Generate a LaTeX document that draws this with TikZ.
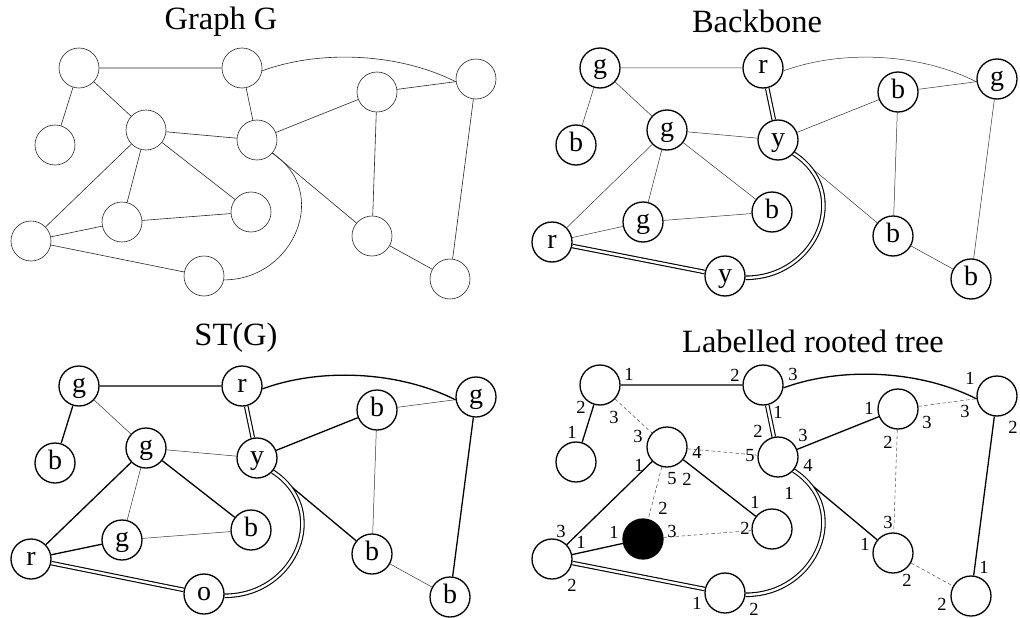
\documentclass[tikz,border=0pt]{standalone}
\usepackage{fontspec}
\setmainfont{Liberation Serif}
\pgfdeclarelayer{bg}
\pgfsetlayers{bg,main}
\begin{document}
\begin{tikzpicture}[x=1pt,y=-1pt,
  vtx/.style={circle, draw, minimum size=40pt, inner sep=0pt, line width=1.3pt,
    font=\fontsize{28}{28}\selectfont, text height=12pt, text depth=0pt},
  thinvtx/.style={circle, draw=black!85, minimum size=40pt, inner sep=0pt, line width=0.6pt},
  gedge/.style={line width=0.6pt, draw=black!85},
  thinedge/.style={line width=0.5pt, draw=black!80},
  treeedge/.style={line width=1.3pt},
  dbl/.style={double, double distance=2.4pt, line width=1.1pt},
  nontree/.style={line width=0.55pt, draw=black!65, dash pattern=on 3.5pt off 2.5pt},
  title/.style={font=\fontsize{32.5}{36}\selectfont, anchor=base, inner sep=0pt},
  lab/.style={font=\fontsize{18.5}{18.5}\selectfont, inner sep=0pt},
]
\useasboundingbox (0,0) rectangle (1020,618);

% ---------- titles ----------
\node[title] (t1) at (221,30) {Graph G};
\node[title] (t2) at (757,33) {Backbone};
\node[title] (t3) at (236,345) {ST(G)};
\node[title] (t4) at (813,352) {Labelled rooted tree};

% ---------- Graph G ----------
\foreach \n/\x/\y in {A/79/68, B/242/68, C/55/145, D/146/130, E/257/140, F/377/92,
  G/476/79, H/122/222, I/251/212, J/31/241, K/204/276, L/372/236, M/450/279}
  \node[thinvtx] (g\n) at (\x,\y) {};
\begin{pgfonlayer}{bg}
\draw[gedge] (gA)--(gB) (gA)--(gC) (gA)--(gD) (gB)--(gE) (gE)--(gF) (gF)--(gG)
  (gD)--(gE) (gD)--(gJ) (gD)--(gH) (gD)--(gI) (gH)--(gJ) (gH)--(gI) (gJ)--(gK)
  (gE)--(gL) (gF)--(gL) (gL)--(gM) (gG)--(gM);
\draw[gedge] (gB.-8) .. controls +(60,-22) and +(-55,-28) .. (gG.188);
\draw[gedge] (gK.-11) .. controls +(70,0) and +(59,38) .. (gE.-41);
\end{pgfonlayer}

% ---------- Backbone ----------
\begin{scope}[xshift=521pt]
\foreach \n/\x/\y/\t in {A/79/68/g, B/242/68/r, C/55/145/b, D/146/130/g, E/257/140/y,
  F/377/92/b, G/476/79/g, H/122/222/g, I/251/212/b, J/31/242/r, K/204/276/y,
  L/372/236/b, M/450/279/b}
  \node[vtx] (b\n) at (\x,\y) {\t};
\begin{pgfonlayer}{bg}
\draw[thinedge] (bA)--(bB) (bA)--(bC) (bA)--(bD) (bE)--(bF) (bF)--(bG)
  (bD)--(bE) (bD)--(bJ) (bD)--(bH) (bD)--(bI) (bH)--(bJ) (bH)--(bI)
  (bE)--(bL) (bF)--(bL) (bL)--(bM) (bG)--(bM);
\draw[thinedge] (bB.-8) .. controls +(60,-22) and +(-55,-28) .. (bG.188);
\draw[dbl] (bB)--(bE);
\draw[dbl] (bJ)--(bK);
\draw[dbl] (bK.-5) .. controls +(72,0) and +(59,38) .. (bE.-41);
\end{pgfonlayer}
\end{scope}

% ---------- ST(G) ----------
\begin{scope}[yshift=-318pt]
\foreach \n/\x/\y/\t in {A/79/68/g, B/242/68/r, C/55/145/b, D/146/130/g, E/257/140/y,
  F/377/92/b, G/476/79/g, H/122/222/g, I/251/212/b, J/31/241/r, K/204/276/o,
  L/372/236/b, M/450/279/b}
  \node[vtx] (s\n) at (\x,\y) {\t};
\begin{pgfonlayer}{bg}
\draw[thinedge] (sA)--(sD) (sD)--(sE) (sD)--(sH) (sH)--(sI) (sF)--(sG) (sF)--(sL) (sL)--(sM);
\draw[treeedge] (sA)--(sB) (sA)--(sC) (sE)--(sF) (sD)--(sJ) (sD)--(sI) (sH)--(sJ)
  (sE)--(sL) (sG)--(sM);
\draw[treeedge] (sB.-8) .. controls +(60,-22) and +(-55,-28) .. (sG.188);
\draw[dbl] (sB)--(sE);
\draw[dbl] (sJ)--(sK);
\draw[dbl] (sK.-5) .. controls +(72,0) and +(59,38) .. (sE.-41);
\end{pgfonlayer}
\end{scope}

% ---------- Labelled rooted tree ----------
\begin{scope}[xshift=521pt, yshift=-317pt]
\foreach \n/\x/\y in {A/79/68, B/242/68, C/55/145, D/146/130, E/257/140, F/377/92,
  G/476/79, I/251/212, J/31/242, K/204/276, L/372/236, M/450/279}
  \node[vtx] (l\n) at (\x,\y) {};
\node[vtx, fill=black] (lH) at (122,222) {};
\begin{pgfonlayer}{bg}
\draw[nontree] (lA)--(lD) (lD)--(lE) (lD)--(lH) (lH)--(lI) (lF)--(lG) (lF)--(lL) (lL)--(lM);
\draw[treeedge] (lA)--(lB) (lA)--(lC) (lE)--(lF) (lD)--(lJ) (lD)--(lI) (lH)--(lJ)
  (lE)--(lL) (lG)--(lM);
\draw[treeedge] (lB.-8) .. controls +(60,-22) and +(-55,-28) .. (lG.188);
\draw[dbl] (lB)--(lE);
\draw[dbl] (lJ)--(lK);
\draw[dbl] (lK.-5) .. controls +(72,0) and +(59,38) .. (lE.-41);
\end{pgfonlayer}
\end{scope}

% port labels
\foreach \k/\x/\y/\t in {1/629/374/1, 2/735/375/2, 3/793/374/3, 4/970/378/1,
  5/581/407/2, 6/614/417/3, 7/572/432/1, 8/638/436/3, 9/697/452/4, 10/750/456/5,
  11/778/412/1, 12/758/431/2, 13/803/435/3, 14/808/465/4, 15/639/465/1,
  16/672/479/5, 17/687/479/2, 18/789/493/1, 19/755/502/1, 20/663/508/2,
  21/745/528/2, 22/672/531/3, 23/614/532/1, 24/561/531/3, 25/581/542/1,
  26/572/585/2, 27/697/603/1, 28/754/609/2, 29/869/408/1, 30/927/422/3,
  31/965/411/3, 32/888/442/2, 33/1013/427/2, 34/888/522/3, 35/865/544/1,
  36/907/580/2, 37/942/604/2, 38/984/567/1}
  \node[lab] (p\k) at (\x,\y) {\t};
\end{tikzpicture}
\end{document}
